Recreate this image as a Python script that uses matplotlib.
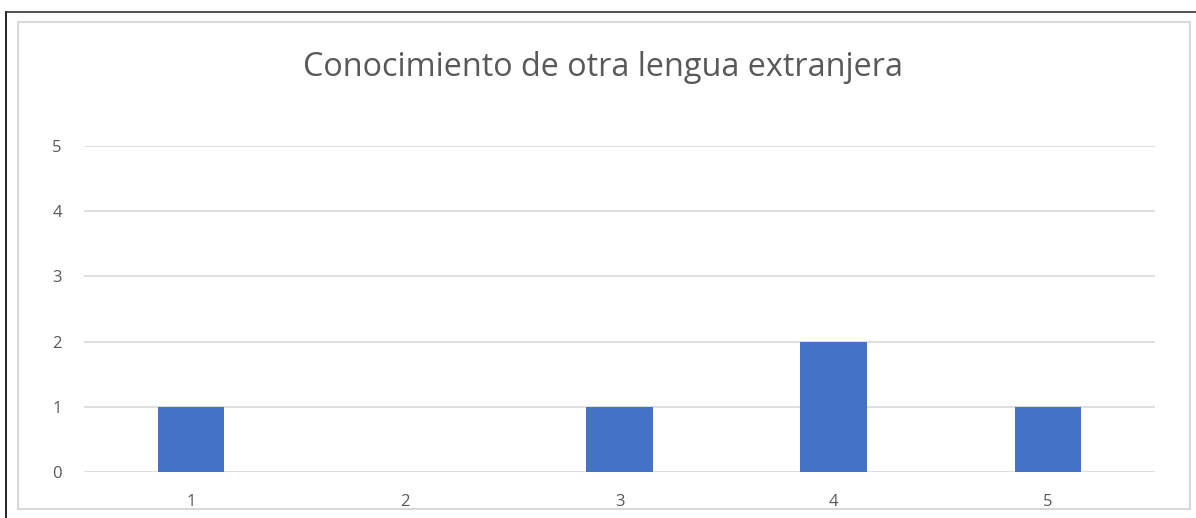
import matplotlib.pyplot as plt
from matplotlib.lines import Line2D
from matplotlib.patches import Rectangle

categories = ['1', '2', '3', '4', '5']
counts = [1, 0, 1, 2, 1]
yticks = [0, 1, 2, 3, 4, 5]
title = 'Conocimiento de otra lengua extranjera'

plt.rcParams['font.family'] = ['Open Sans', 'DejaVu Sans']

W, H = 1196, 518
fig = plt.figure(figsize=(W / 100, H / 100), dpi=100)

# outer black frame (cut off at bottom/right) and inner grey chart border
fig.add_artist(Line2D([6 / W, 6 / W], [0, 1 - 12 / H], color='black', lw=1.2))
fig.add_artist(Line2D([6 / W, 1], [1 - 12 / H, 1 - 12 / H], color='#333333', lw=1.2))
fig.add_artist(Rectangle((18 / W, 1 - 509 / H), (1190 - 18) / W, (509 - 22) / H,
                         transform=fig.transFigure, fill=False,
                         edgecolor='#d9d9d9', lw=1.5))

ax = fig.add_axes([84 / W, 46 / H, (1155 - 84) / W, 326 / H])
x = list(range(1, len(categories) + 1))
ax.bar(x, counts, width=0.31, color='#4472C4', zorder=3)
ax.set_xlim(0.5, len(categories) + 0.5)
ax.set_ylim(0, 5)
ax.set_yticks(yticks)
ax.set_xticks(x)
ax.set_xticklabels(categories)
ax.grid(axis='y', color='#d9d9d9', lw=1.2, zorder=0)
for s in ax.spines.values():
    s.set_visible(False)
ax.tick_params(length=0, colors='#595959', labelsize=12)
ax.tick_params(axis='y', pad=16)
ax.tick_params(axis='x', pad=16)

fig.text(603 / W, 1 - 68 / H, title, ha='center', va='center',
         fontsize=23.3, color='#595959')

fig.savefig('out.png', dpi=100)
